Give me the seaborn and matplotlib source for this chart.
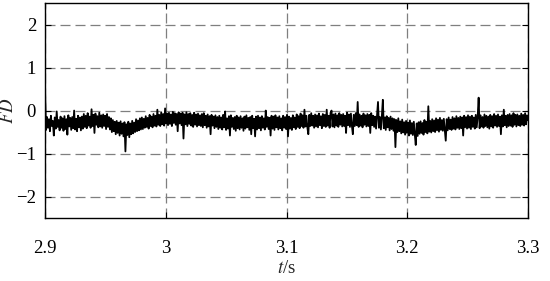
import numpy as np
import matplotlib
matplotlib.use("Agg")
import matplotlib.pyplot as plt
import seaborn as sns

t_start, t_end = 2.9, 3.3
fd = [
    0.40, -0.45, -0.15, -0.40, -0.20, -0.48, -0.12, -0.36, -0.24, -0.58, -0.16, -0.42, -0.02, -0.38, -0.22, -0.46, -0.14, -0.40, -0.18, -0.47,
    -0.13, -0.43, -0.20, -0.56, -0.11, -0.37, -0.17, -0.45, -0.15, -0.41, 0.00, -0.44, -0.19, -0.48, -0.12, -0.39, -0.16, -0.46, -0.14, -0.42,
    -0.08, -0.38, -0.12, -0.41, -0.06, -0.35, -0.14, -0.40, 0.03, -0.36, -0.10, -0.52, -0.07, -0.33, -0.13, -0.39, -0.05, -0.37, -0.11, -0.40,
    -0.09, -0.36, -0.12, -0.43, -0.08, -0.38, -0.15, -0.44, -0.18, -0.50, -0.22, -0.48, -0.26, -0.55, -0.24, -0.52, -0.28, -0.58, -0.25, -0.54,
    -0.30, -0.60, -0.27, -0.95, -0.32, -0.57, -0.26, -0.62, -0.30, -0.55, -0.24, -0.53, -0.28, -0.50, -0.20, -0.48, -0.23, -0.46, -0.18, -0.44,
    -0.16, -0.43, -0.19, -0.40, -0.13, -0.38, -0.17, -0.42, -0.10, -0.36, -0.14, -0.39, -0.08, -0.35, -0.12, -0.37, 0.02, -0.33, -0.10, -0.36,
    -0.04, -0.32, -0.08, -0.35, 0.05, -0.30, -0.07, -0.34, -0.05, -0.31, -0.09, -0.36, -0.03, -0.29, -0.06, -0.33, -0.08, -0.48, -0.04, -0.30,
    -0.07, -0.34, -0.05, -0.65, -0.09, -0.32, -0.04, -0.36, -0.08, -0.31, -0.06, -0.35, -0.10, -0.38, -0.05, -0.33, -0.09, -0.37, -0.07, -0.34,
    -0.11, -0.36, -0.08, -0.39, -0.06, -0.34, -0.12, -0.40, -0.09, -0.37, -0.13, -0.55, -0.10, -0.35, -0.14, -0.41, -0.11, -0.38, -0.15, -0.43,
    -0.12, -0.40, -0.16, -0.44, -0.10, -0.39, -0.02, -0.45, -0.18, -0.42, -0.13, -0.58, -0.11, -0.38, -0.17, -0.43, -0.15, -0.47, -0.12, -0.41,
    -0.16, -0.44, -0.13, -0.40, -0.18, -0.47, -0.14, -0.42, -0.11, -0.39, -0.17, -0.45, -0.15, -0.55, -0.12, -0.41, -0.19, -0.60, -0.14, -0.44,
    -0.12, -0.41, -0.16, -0.46, -0.13, -0.40, -0.18, -0.44, 0.00, -0.38, -0.15, -0.43, -0.17, -0.58, -0.12, -0.42, -0.14, -0.45, -0.11, -0.39,
    -0.16, -0.44, -0.13, -0.41, -0.18, -0.46, -0.12, -0.40, -0.15, -0.43, -0.10, -0.60, -0.14, -0.42, -0.17, -0.45, -0.11, -0.39, -0.16, -0.43,
    -0.09, -0.38, -0.13, -0.41, -0.07, -0.36, -0.11, -0.40, 0.02, -0.37, -0.12, -0.39, -0.55, -0.10, -0.36, -0.06, -0.35, -0.12, -0.40, -0.09,
    -0.37, -0.11, -0.39, -0.07, -0.34, -0.13, -0.41, -0.08, -0.36, -0.10, -0.38, 0.02, -0.35, -0.12, -0.40, -0.05, 0.00, -0.37, -0.09, -0.39,
    -0.07, -0.35, -0.11, -0.38, -0.06, -0.33, -0.10, -0.37, -0.08, -0.36, -0.12, -0.52, -0.05, -0.34, -0.09, -0.38, -0.07, -0.35, -0.55, -0.10,
    -0.36, -0.06, -0.34, 0.20, -0.38, -0.09, -0.35, -0.12, -0.39, -0.07, -0.33, -0.11, -0.37, -0.08, -0.36, -0.10, -0.52, -0.06, -0.34, -0.12,
    -0.38, -0.14, -0.42, -0.10, 0.20, -0.40, -0.15, -0.44, -0.12, 0.25, -0.41, -0.16, -0.45, -0.13, -0.39, -0.17, -0.46, -0.14, -0.43, -0.18,
    -0.47, -0.20, -0.85, -0.22, -0.50, -0.18, -0.48, -0.25, -0.53, -0.21, -0.51, -0.27, -0.56, -0.24, -0.52, -0.28, -0.58, -0.23, -0.54, -0.29,
    -0.57, -0.26, -0.55, -0.80, -0.30, -0.59, -0.27, -0.54, -0.25, -0.52, -0.29, -0.56, -0.22, -0.50, -0.26, -0.53, 0.10, -0.49, -0.24, -0.51,
    -0.20, -0.48, -0.23, -0.50, -0.18, -0.46, -0.21, -0.49, -0.17, -0.45, -0.22, -0.47, -0.19, -0.44, -0.70, -0.20, -0.46, -0.16, -0.43, -0.21,
    -0.45, -0.15, -0.42, -0.18, -0.44, -0.13, -0.40, -0.17, -0.43, -0.14, -0.41, -0.16, -0.58, -0.12, -0.39, -0.15, -0.42, -0.11, -0.40, -0.14,
    -0.43, -0.12, -0.38, -0.16, -0.42, -0.10, -0.39, -0.13, 0.30, -0.41, -0.11, -0.37, -0.15, -0.40, -0.09, -0.36, -0.12, -0.39, -0.14, -0.42,
    -0.10, -0.37, -0.13, -0.40, -0.08, -0.35, -0.12, -0.38, -0.09, -0.36, -0.14, -0.55, -0.11, -0.37, 0.02, -0.34, -0.12, -0.39, -0.10, -0.36,
    -0.08, -0.35, -0.11, -0.38, -0.06, -0.33, -0.10, -0.37, -0.09, -0.34, -0.12, -0.36, -0.07, -0.33, -0.10, -0.35, -0.06, -0.32, -0.11, -0.22,
]
t = np.linspace(t_start, t_end, len(fd))

x_ticks = [2.9, 3.0, 3.1, 3.2, 3.3]
x_tick_labels = ["2.9", "3", "3.1", "3.2", "3.3"]
y_ticks = [-2, -1, 0, 1, 2]
y_tick_labels = ["\u22122", "\u22121", "0", "1", "2"]

sns.set_style("ticks")
plt.rcParams["font.family"] = ["Liberation Serif", "DejaVu Serif"]
plt.rcParams["mathtext.fontset"] = "stix"

fig = plt.figure(figsize=(5.5, 2.81), dpi=100)
ax = fig.add_axes([0.082, 0.224, 0.878, 0.765])

sns.lineplot(x=t, y=fd, ax=ax, color="black", lw=1.3, estimator=None, sort=False)

ax.set_xlim(t_start, t_end)
ax.set_ylim(-2.5, 2.5)
ax.set_xticks(x_ticks)
ax.set_xticklabels(x_tick_labels)
ax.set_yticks(y_ticks)
ax.set_yticklabels(y_tick_labels)
ax.grid(True, color="#7f7f7f", ls=(0, (8, 4)), lw=0.9)
ax.set_axisbelow(True)
ax.tick_params(direction="in", length=4, labelsize=13.5, top=True, right=True,
               colors="black")
ax.tick_params(axis="x", pad=16)
ax.tick_params(axis="y", pad=6.5)
for s in ax.spines.values():
    s.set_color("black")
    s.set_linewidth(1.0)

ax.set_xlabel(r"$t$/s", fontsize=13.5, labelpad=2)
ax.set_ylabel(r"$FD$", fontsize=13.5)
ax.yaxis.set_label_coords(-0.058, 0.5)

fig.savefig("out.png", dpi=100)
